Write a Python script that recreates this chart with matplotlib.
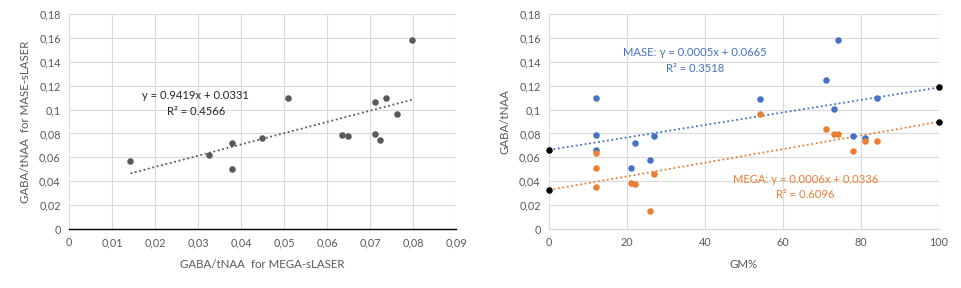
import numpy as np
import matplotlib
matplotlib.use("Agg")
import matplotlib.pyplot as plt
from matplotlib.ticker import FuncFormatter

plt.rcParams['font.family'] = ['Lato', 'DejaVu Sans']

# Left chart: MEGA vs MASE
mega_x = [0.0143, 0.0326, 0.0378, 0.0380, 0.0450, 0.0510, 0.0635, 0.0650,
          0.0712, 0.0712, 0.0724, 0.0738, 0.0763, 0.0798]
mase_y = [0.0567, 0.0618, 0.0718, 0.0500, 0.0760, 0.1096, 0.0785, 0.0777,
          0.1062, 0.0799, 0.0743, 0.1096, 0.0961, 0.1579]
fit_slope, fit_icpt = 0.9419, 0.0331

# Right chart: GM% vs GABA/tNAA
gm_mase = [12, 12, 12, 22, 21, 27, 26, 54, 71, 73, 74, 78, 81, 84]
val_mase = [0.1096, 0.0785, 0.0662, 0.0718, 0.0509, 0.0777, 0.0576, 0.1087,
            0.1246, 0.1003, 0.1582, 0.0777, 0.0763, 0.1096]
gm_mega = [12, 12, 12, 21, 22, 27, 26, 54, 71, 73, 74, 78, 81, 84]
val_mega = [0.0634, 0.0509, 0.0349, 0.0386, 0.0375, 0.0458, 0.0148, 0.0961,
            0.0836, 0.0794, 0.0794, 0.0651, 0.0735, 0.0735]
ends_gm = [0, 100]
ends_mase = [0.0662, 0.1185]
ends_mega = [0.0327, 0.0897]

GRAY = '#595959'
GRID = '#D9D9D9'
BLUE = '#4472C4'
ORANGE = '#ED7D31'
FS = 7.8

fig = plt.figure(figsize=(9.62, 2.88), dpi=100)
W, H = 962, 288

def add_ax(l, r, t, b):
    return fig.add_axes([l / W, 1 - b / H, (r - l) / W, (b - t) / H])

comma = FuncFormatter(lambda v, p: ('%g' % round(v, 4)).replace('.', ','))

def style(ax, bottom_color):
    ax.grid(True, color=GRID, linewidth=0.8)
    ax.set_axisbelow(True)
    for s in ['top', 'right', 'left']:
        ax.spines[s].set_visible(False)
    ax.spines['bottom'].set_color(bottom_color)
    ax.spines['bottom'].set_linewidth(1.0)
    ax.tick_params(length=0, labelsize=FS, colors=GRAY, pad=6)
    ax.set_ylim(0, 0.18)
    ax.set_yticks(np.arange(0, 0.181, 0.02))
    ax.yaxis.set_major_formatter(comma)

# Left
ax1 = add_ax(69, 456, 14, 229)
style(ax1, 'black')
ax1.set_xlim(0, 0.09)
ax1.set_xticks(np.arange(0, 0.0901, 0.01))
ax1.xaxis.set_major_formatter(comma)
ax1.scatter(mega_x, mase_y, s=22, color=GRAY, zorder=3, linewidths=0)
xs = np.array([min(mega_x), max(mega_x)])
ax1.plot(xs, fit_slope * xs + fit_icpt, linestyle=(0, (1, 1.5)), color=GRAY, linewidth=1.3)
ax1.text(0.0295, 0.1115, 'y = 0.9419x + 0.0331', ha='center', va='center', fontsize=FS + 0.3, color='#262626')
ax1.text(0.0295, 0.0985, 'R² = 0.4566', ha='center', va='center', fontsize=FS + 0.3, color='#262626')
ax1.set_xlabel('GABA/tNAA  for MEGA-sLASER', fontsize=FS + 0.5, color=GRAY, labelpad=8)
ax1.set_ylabel('GABA/tNAA  for MASE-sLASER', fontsize=FS + 0.5, color=GRAY, labelpad=6)

# Right
ax2 = add_ax(549, 939, 14, 229)
style(ax2, GRID)
ax2.set_xlim(0, 100)
ax2.set_xticks(np.arange(0, 101, 20))
ax2.plot(ends_gm, ends_mase, linestyle=(0, (1, 1.5)), color=BLUE, linewidth=1.3, zorder=2)
ax2.plot(ends_gm, ends_mega, linestyle=(0, (1, 1.5)), color=ORANGE, linewidth=1.3, zorder=2)
ax2.scatter(gm_mase, val_mase, s=22, color=BLUE, zorder=3, linewidths=0)
ax2.scatter(gm_mega, val_mega, s=22, color=ORANGE, zorder=3, linewidths=0)
ax2.scatter(ends_gm, ends_mase, s=22, color='black', zorder=4, linewidths=0, clip_on=False)
ax2.scatter(ends_gm, ends_mega, s=22, color='black', zorder=4, linewidths=0, clip_on=False)
ax2.text(37.4, 0.1475, 'MASE: γ = 0.0005x + 0.0665', ha='center', va='center', fontsize=FS + 0.3, color=BLUE)
ax2.text(37.4, 0.1345, 'R² = 0.3518', ha='center', va='center', fontsize=FS + 0.3, color=BLUE)
ax2.text(65.8, 0.0415, 'MEGA: y = 0.0006x + 0.0336', ha='center', va='center', fontsize=FS + 0.3, color=ORANGE)
ax2.text(65.8, 0.0285, 'R² = 0.6096', ha='center', va='center', fontsize=FS + 0.3, color=ORANGE)
ax2.set_xlabel('GM%', fontsize=FS + 0.5, color=GRAY, labelpad=8)
ax2.set_ylabel('GABA/tNAA', fontsize=FS + 0.5, color=GRAY, labelpad=6)

fig.savefig('out.png', dpi=100)
